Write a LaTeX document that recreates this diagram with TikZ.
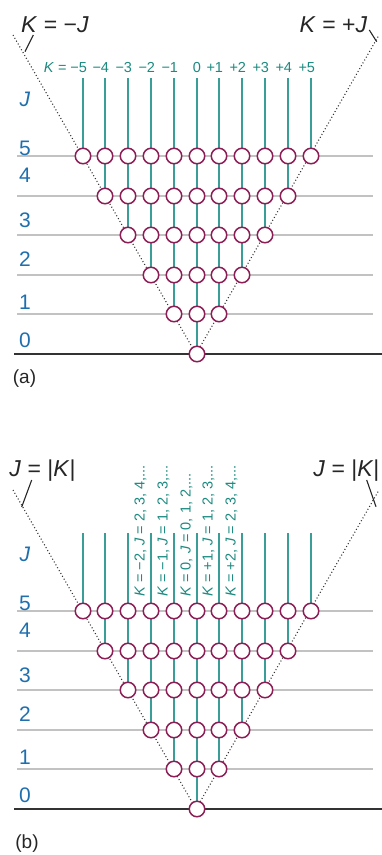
\documentclass[tikz,border=0pt]{standalone}
\usepackage{fontspec}
\setmainfont{Liberation Sans}
\usetikzlibrary{positioning}
\definecolor{lvlteal}{HTML}{3A9D97}
\definecolor{lvltealtext}{HTML}{1C8A80}
\definecolor{lvlmaroon}{HTML}{8C1D55}
\definecolor{lvlblue}{HTML}{1F6FAF}
\definecolor{lvlgray}{HTML}{C2C2C2}

\begin{document}
\begin{tikzpicture}[x=1pt, y=-1pt,
  level/.style={circle, draw=lvlmaroon, line width=1.5pt, fill=white, minimum size=15.5pt, inner sep=0pt},
  kline/.style={lvlteal, line width=1.5pt},
  rowline/.style={lvlgray, line width=1.4pt},
  baseline0/.style={black!80, line width=1.6pt},
  coneline/.style={black!80, line width=1.1pt, dash pattern=on 1pt off 2.3pt},
  tickline/.style={black!85, line width=1.1pt},
  klab/.style={text=lvltealtext, font=\fontsize{14.5}{16}\selectfont},
  rowlab/.style={text=lvlblue, font=\fontsize{21}{23}\selectfont},
  biglab/.style={text=black!85, font=\fontsize{23}{25}\selectfont},
  panellab/.style={text=black!85, font=\fontsize{19}{21}\selectfont}]

\useasboundingbox (0,0) rectangle (382,855);

% Ladder of levels, same for (a) and (b)
\foreach \p/\dy in {a/0, b/455} {
\begin{scope}[shift={(0,\dy)}]
  % horizontal lines
  \foreach \J in {1,...,5} {
    \pgfmathsetmacro\yy{round(156+39.6*(5-\J))}
    \coordinate (\p-l\J) at (17,\yy);
    \coordinate (\p-r\J) at (373,\yy);
    \draw[rowline] (\p-l\J) -- (\p-r\J);
  }
  \coordinate (\p-l0) at (14,354);
  \coordinate (\p-r0) at (382,354);
  \draw[baseline0] (\p-l0) -- (\p-r0);

  % cone J = |K|
  \coordinate (\p-apex) at (196,354);
  \coordinate (\p-cl) at (13,35);
  \coordinate (\p-cr) at (379,35);
  \draw[coneline] (\p-cl) -- (\p-apex) -- (\p-cr);

  % K columns and levels
  \foreach \i in {0,...,10} {
    \pgfmathsetmacro\xx{round(82.5+22.8*\i)}
    \pgfmathtruncatemacro\kk{abs(\i-5)}
    \pgfmathsetmacro\yb{round(156+39.6*(5-\kk))}
    \coordinate (\p-top\i) at (\xx,78);
    \coordinate (\p-bot\i) at (\xx,\yb);
    \draw[kline] (\p-top\i) -- (\p-bot\i);
    \foreach \J in {\kk,...,5} {
      \pgfmathsetmacro\yy{round(156+39.6*(5-\J))}
      \node[level] (\p-\J-\i) at (\xx,\yy) {};
    }
  }

  % J axis
  \node[rowlab] (\p-jlab) at (25,99) {\textit{J}};
  \foreach \J/\yl in {5/148, 4/175, 3/220.5, 2/259.5, 1/302.5, 0/340.5}
    \node[rowlab] (\p-lab\J) at (25,\yl) {\J};
\end{scope}
}

% (a) labels
\foreach \i/\s/\d in {0/\textit{K} = −/5, 1/−/4, 2/−/3, 3/−/2, 4/−/1, 5//0, 6/+/1, 7/+/2, 8/+/3, 9/+/4, 10/+/5}
  \node[klab, anchor=base, inner sep=0pt] (a-k\i) at ({round(82.5+22.8*\i)},72.7) {\makebox[0pt][r]{\s}\d};

\node[biglab] (a-kmj) at (55,25) {\textit{K} = −\textit{J}};
\node[biglab] (a-kpj) at (333.5,25) {\textit{K} = +\textit{J}};
\coordinate (a-tl1) at (33.3,35);
\coordinate (a-tl2) at (25,51.7);
\coordinate (a-tr1) at (369.3,30);
\coordinate (a-tr2) at (376.7,41.7);
\draw[tickline] (a-tl1) -- (a-tl2);
\draw[tickline] (a-tr1) -- (a-tr2);
\node[panellab] (a-name) at (24.5,378.5) {(a)};

% (b) labels
\foreach \i/\txt in {3/{\textit{K} = −2, \textit{J} = 2, 3, 4,...},
                     4/{\textit{K} = −1, \textit{J} = 1, 2, 3,...},
                     5/{\textit{K} = 0, \textit{J} = 0, 1, 2,...},
                     6/{\textit{K} = +1, \textit{J} = 1, 2, 3,...},
                     7/{\textit{K} = +2, \textit{J} = 2, 3, 4,...}}
  \node[klab, rotate=90, anchor=base west, inner sep=0pt] (b-k\i) at ({round(82.5+22.8*\i)-6.5},597) {\txt};

\node[biglab] (b-jkl) at (42.5,471) {\textit{J} = |\textit{K}|};
\node[biglab, anchor=east] (b-jkr) at (383,471) {\textit{J} = |\textit{K}|};
\coordinate (b-tl1) at (31.7,480);
\coordinate (b-tl2) at (21.7,507);
\coordinate (b-tr1) at (366.7,480);
\coordinate (b-tr2) at (376,506.7);
\draw[tickline] (b-tl1) -- (b-tl2);
\draw[tickline] (b-tr1) -- (b-tr2);
\node[panellab] (b-name) at (27,844) {(b)};

\end{tikzpicture}
\end{document}
